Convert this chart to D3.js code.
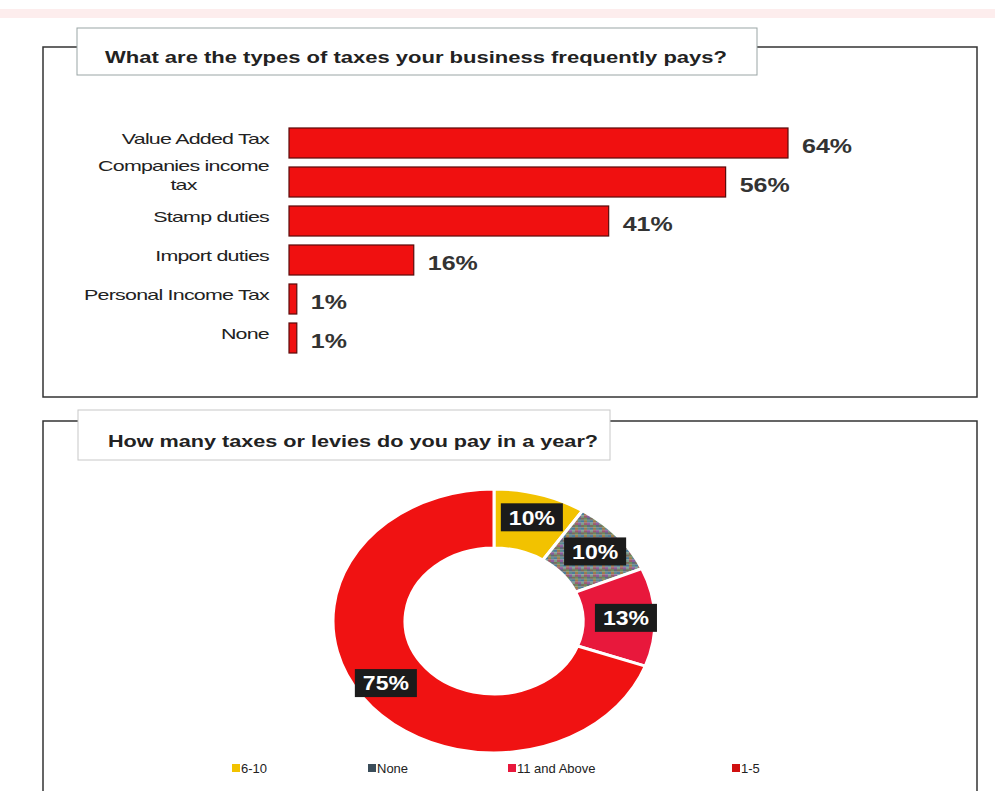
<!DOCTYPE html>
<meta charset="utf-8">
<style>
    body {
        margin: 0;
        background-color: #ffffff;
    }

    svg {
        display: block;
        font-family: "Liberation Sans", Arial, sans-serif;
    }

    .cat {
        font-size: 14px;
        fill: #222;
        letter-spacing: -0.5px;
    }

    .val {
        font-size: 20px;
        font-weight: bold;
        fill: #333;
    }

    .title {
        font-size: 17px;
        font-weight: bold;
        fill: #222;
    }

    .legend text {
        font-size: 13px;
        fill: #222;
    }
</style>

<body>
    <svg width="995" height="791"></svg>
    <script src="https://d3js.org/d3.v7.min.js"></script>
    <script>
        // bar chart data
        var taxTypes = ["Value Added Tax", "Companies income\ntax", "Stamp duties", "Import duties", "Personal Income Tax", "None"];
        var taxShares = [64, 56, 41, 16, 1, 1];

        // donut data
        var levyCounts = ["6-10", "None", "11 and Above", "1-5"];
        var levyShares = [10, 10, 13, 75];
        var levyColours = ["#f2c200", "url(#noise)", "#e8183c", "#f01212"];
        var legendColours = ["#f2c200", "#3b4d5a", "#e8183c", "#d01010"];

        var svg = d3.select("svg");
        var stretch = 1.53; // the source image is stretched sideways

        // faint pink strip at the top
        svg.append("rect")
            .attr("x", 0).attr("y", 9)
            .attr("width", 995).attr("height", 9)
            .attr("fill", "#fdeded");

        // pattern for the "None" slice
        var noiseCols = ["#6b8c5c", "#8c5c9c", "#4b7b9c", "#9c7c4c", "#5c6c7c", "#7c9c8c", "#9c5c6c", "#5c8c8c", "#7c6c5c"];
        var pat = svg.append("defs").append("pattern")
            .attr("id", "noise")
            .attr("patternUnits", "userSpaceOnUse")
            .attr("width", 9).attr("height", 9);
        d3.range(9).forEach(function (i) {
            pat.append("rect")
                .attr("x", (i % 3) * 3)
                .attr("y", Math.floor(i / 3) * 3)
                .attr("width", 3).attr("height", 3)
                .attr("fill", noiseCols[(i * 4) % 9]);
        });

        // ---------- panel 1 : bar chart ----------
        svg.append("rect")
            .attr("x", 43).attr("y", 47)
            .attr("width", 934).attr("height", 350)
            .attr("fill", "none")
            .attr("stroke", "#333")
            .attr("stroke-width", 1.5);

        svg.append("rect")
            .attr("x", 77).attr("y", 28)
            .attr("width", 680).attr("height", 47)
            .attr("fill", "#fff")
            .attr("stroke", "#9aa5a5")
            .attr("stroke-width", 1);

        svg.append("text")
            .attr("class", "title")
            .attr("x", 105).attr("y", 63)
            .attr("textLength", 622)
            .attr("lengthAdjust", "spacingAndGlyphs")
            .text("What are the types of taxes your business frequently pays?");

        var x = d3.scaleLinear().domain([0, 64]).range([289, 788]);
        var y = d3.scaleBand()
            .domain(taxTypes)
            .range([123.5, 357.5])
            .paddingInner(0.23)
            .paddingOuter(0.115);

        var bars = svg.append("g");

        bars.selectAll("rect")
            .data(taxTypes)
            .enter().append("rect")
            .attr("x", x(0))
            .attr("y", function (d) { return y(d); })
            .attr("width", function (d, i) { return x(taxShares[i]) - x(0); })
            .attr("height", y.bandwidth())
            .attr("fill", "#f01010")
            .attr("stroke", "#5a0a0a")
            .attr("stroke-width", 1.2);

        bars.selectAll(".val")
            .data(taxTypes)
            .enter().append("text")
            .attr("class", "val")
            .attr("transform", function (d, i) {
                return "translate(" + (x(taxShares[i]) + 14) + "," + (y(d) + y.bandwidth() - 5) + ") scale(1.25,1)";
            })
            .text(function (d, i) { return taxShares[i] + "%"; });

        bars.selectAll(".cat")
            .data(taxTypes)
            .enter().append("text")
            .attr("class", "cat")
            .attr("text-anchor", "end")
            .attr("transform", function (d) {
                var lines = d.split("\n").length;
                return "translate(269," + (y(d) + (lines > 1 ? 4 : 16)) + ") scale(" + stretch + ",1)";
            })
            .each(function (d) {
                var t = d3.select(this);
                var first = null;
                d.split("\n").forEach(function (line, k) {
                    var ts = t.append("tspan")
                        .attr("x", 0)
                        .attr("dy", k > 0 ? 19 : 0)
                        .text(line);
                    if (k === 0) first = ts;
                    else ts.attr("text-anchor", "middle")
                        .attr("x", -first.node().getComputedTextLength() / 2);
                });
            });

        // ---------- panel 2 : donut ----------
        svg.append("path")
            .attr("d", "M43,800V421H977V800")
            .attr("fill", "none")
            .attr("stroke", "#333")
            .attr("stroke-width", 1.5);

        svg.append("rect")
            .attr("x", 78).attr("y", 410)
            .attr("width", 532).attr("height", 50)
            .attr("fill", "#fff")
            .attr("stroke", "#c8c8c8")
            .attr("stroke-width", 1);

        svg.append("text")
            .attr("class", "title")
            .attr("x", 108).attr("y", 447)
            .attr("textLength", 490)
            .attr("lengthAdjust", "spacingAndGlyphs")
            .style("font-weight", "600")
            .style("font-size", "16px")
            .text("How many taxes or levies do you pay in a year?");

        var cx = 494, cy = 621, rOuter = 161, rInner = 89, squash = 0.82;

        var pie = d3.pie().sort(null).value(function (d, i) { return levyShares[i]; });
        var arcs = pie(levyCounts);
        var arc = d3.arc().innerRadius(rInner).outerRadius(rOuter);
        var labelArc = d3.arc().innerRadius(132).outerRadius(132);

        var donut = svg.append("g")
            .attr("transform", "translate(" + cx + "," + cy + ") scale(1," + squash + ")");

        donut.selectAll("path")
            .data(arcs)
            .enter().append("path")
            .attr("d", arc)
            .attr("fill", function (d, i) { return levyColours[i]; })
            .attr("stroke", "#fff")
            .attr("stroke-width", 3)
            .attr("vector-effect", "non-scaling-stroke");

        var labels = svg.append("g");
        arcs.forEach(function (a, i) {
            var c = labelArc.centroid(a);
            var lx = cx + c[0], ly = cy + c[1] * squash;
            var g = labels.append("g").attr("transform", "translate(" + lx + "," + ly + ")");
            var bg = g.append("rect").attr("fill", "#1b1b1b");
            var t = g.append("text")
                .attr("text-anchor", "middle")
                .attr("dy", "0.36em")
                .attr("transform", "scale(1.15,1)")
                .style("font-size", "20px")
                .style("font-weight", "bold")
                .attr("fill", "#fff")
                .text(levyShares[i] + "%");
            var w = t.node().getBBox().width * 1.15;
            bg.attr("x", -w / 2 - 8).attr("y", -14)
                .attr("width", w + 16).attr("height", 28);
        });

        // legend
        var legendX = d3.scaleOrdinal().domain(levyCounts).range([232, 368, 508, 732]);
        var legend = svg.append("g").attr("class", "legend");
        var li = legend.selectAll("g")
            .data(levyCounts)
            .enter().append("g")
            .attr("transform", function (d) { return "translate(" + legendX(d) + ",768)"; });
        li.append("rect")
            .attr("x", 0).attr("y", -4)
            .attr("width", 8).attr("height", 8)
            .attr("fill", function (d, i) { return legendColours[i]; });
        li.append("text")
            .attr("x", 9).attr("dy", "0.36em")
            .text(function (d) { return d; });
    </script>
</body>
